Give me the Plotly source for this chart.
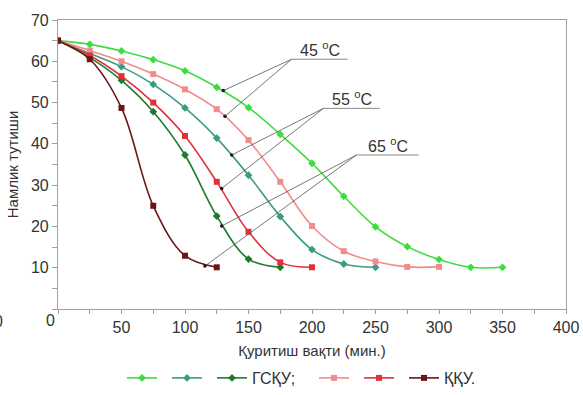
import plotly.graph_objects as go

# Drying time, minutes
time_45 = [0, 25, 50, 75, 100, 125, 150, 175, 200, 225, 250, 275, 300, 325, 350]
time_45k = [0, 25, 50, 75, 100, 125, 150, 175, 200, 225, 250, 275, 300]
time_55 = [0, 25, 50, 75, 100, 125, 150, 175, 200, 225, 250]
time_55k = [0, 25, 50, 75, 100, 125, 150, 175, 200]
time_65 = [0, 25, 50, 75, 100, 125, 150, 175]
time_65k = [0, 25, 50, 75, 100, 125]

# Moisture content, GSKU dryer
gsku_45 = [65, 64.1, 62.5, 60.4, 57.7, 53.7, 48.8, 42.3, 35.3, 27.3, 19.9, 15.1, 12.0, 10.1, 10.1]
gsku_55 = [65, 61.9, 58.7, 54.4, 48.7, 41.4, 32.4, 22.4, 14.4, 10.9, 10.1]
gsku_65 = [65, 60.9, 55.4, 47.8, 37.3, 22.5, 12.1, 10.1]

# Moisture content, KKU dryer
kku_45 = [65, 62.6, 60.0, 56.9, 53.2, 48.4, 40.9, 30.8, 20.1, 14.0, 11.5, 10.2, 10.2]
kku_55 = [65, 61.4, 56.4, 50.0, 41.9, 30.8, 18.7, 11.3, 10.1]
kku_65 = [65, 60.5, 48.7, 25.0, 12.9, 10.1]

series = [
    ("", time_45, gsku_45, "#3fdc3f", "diamond", "legend"),
    ("", time_55, gsku_55, "#3a9c82", "diamond", "legend"),
    ("ГСҚУ;", time_65, gsku_65, "#1f7a2e", "diamond", "legend"),
    ("", time_45k, kku_45, "#f08c8c", "square", "legend2"),
    ("", time_55k, kku_55, "#e0303a", "square", "legend2"),
    ("ҚҚУ.", time_65k, kku_65, "#6b1515", "square", "legend2"),
]

FONT = "Liberation Sans, Arial"
TXT = "#333333"

fig = go.Figure()
for name, xs, ys, color, symbol, leg in series:
    fig.add_trace(go.Scatter(
        x=xs, y=ys, name=name, mode="lines+markers", legend=leg,
        line=dict(color=color, width=1.6, shape="spline", smoothing=1.0),
        marker=dict(color=color, size=6, symbol=symbol),
    ))

# Temperature callouts: label, underline (x0, x1, y), curve anchor points
callouts = [
    ("45 <sup>o</sup>C", 184, 228, 60.5, [(130.2, 52.9), (131.5, 46.7)]),
    ("55 <sup>o</sup>C", 209, 253.5, 48.6, [(136.8, 37.3), (128.9, 29.2)]),
    ("65 <sup>o</sup>C", 235, 284, 37.3, [(128.9, 20.1), (115.7, 10.4)]),
]
for text, x0, x1, yy, anchors in callouts:
    fig.add_shape(type="line", x0=x0, x1=x1, y0=yy, y1=yy,
                  line=dict(color="#888888", width=1))
    for ax, ay in anchors:
        fig.add_shape(type="line", x0=x0, y0=yy, x1=ax, y1=ay,
                      line=dict(color="#555555", width=0.8))
    fig.add_trace(go.Scatter(
        x=[a[0] for a in anchors], y=[a[1] for a in anchors], mode="markers",
        marker=dict(color="#111111", size=3.5), showlegend=False, hoverinfo="skip",
    ))
    fig.add_annotation(x=(x0 + x1) / 2, y=yy, text=text, showarrow=False,
                       yanchor="bottom", yshift=-2,
                       font=dict(family=FONT, size=16, color=TXT))

# Shared origin label
fig.add_annotation(xref="paper", yref="paper", x=0, y=0, text="0", showarrow=False,
                   xanchor="right", yanchor="top", xshift=-1, yshift=-1,
                   font=dict(family=FONT, size=16, color=TXT))
# Stray digit at the left edge
fig.add_annotation(xref="paper", yref="paper", x=0, y=0, text="0", showarrow=False,
                   xanchor="right", yanchor="top", xshift=-53, yshift=-2,
                   font=dict(family=FONT, size=16, color=TXT))

x_ticks = list(range(0, 401, 25))
x_text = ["" if (v % 50 or v == 0) else str(v) for v in x_ticks]
y_ticks = list(range(0, 71, 5))
y_text = ["" if (v % 10 or v == 0) else str(v) for v in y_ticks]

axis_col = "#a0a0a0"
fig.update_xaxes(
    range=[0, 400], tickvals=x_ticks, ticktext=x_text, ticks="outside", ticklen=4,
    tickcolor=axis_col, showline=True, linecolor=axis_col, linewidth=1.2, mirror=True,
    showgrid=False, zeroline=False,
    tickfont=dict(family=FONT, size=16, color=TXT),
    title=dict(text="Қуритиш вақти (мин.)", standoff=10,
               font=dict(family=FONT, size=15, color=TXT)),
)
fig.update_yaxes(
    range=[0, 70], tickvals=y_ticks, ticktext=y_text, ticks="outside", ticklen=5,
    tickcolor=axis_col, showline=True, linecolor=axis_col, linewidth=1.2, mirror=True,
    showgrid=False, zeroline=False,
    tickfont=dict(family=FONT, size=16, color=TXT),
    title=dict(text="Намлик тутиши", standoff=8,
               font=dict(family=FONT, size=15, color=TXT)),
)

legend_style = dict(orientation="h", xref="container", yref="container",
                    y=0.0, yanchor="bottom", xanchor="left",
                    font=dict(family=FONT, size=16, color=TXT),
                    itemwidth=30, bgcolor="rgba(0,0,0,0)")

fig.update_layout(
    width=583, height=395,
    margin=dict(l=58, r=17, t=20, b=86, autoexpand=False),
    paper_bgcolor="white", plot_bgcolor="white",
    showlegend=True,
    legend=dict(x=122 / 583, **legend_style),
    legend2=dict(x=314 / 583, **legend_style),
)

fig.write_html("out.html")
